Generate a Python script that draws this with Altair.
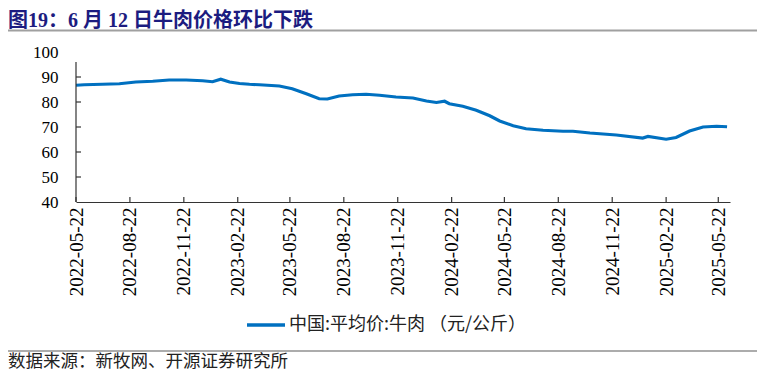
import altair as alt
import pandas as pd

dates = ["2022-05-22", "2022-06-05", "2022-07-06", "2022-08-04", "2022-09-01", "2022-09-30",
         "2022-10-28", "2022-11-26", "2022-12-24", "2023-01-10", "2023-01-24", "2023-02-08",
         "2023-02-25", "2023-03-14", "2023-03-31", "2023-05-04", "2023-05-26", "2023-06-19",
         "2023-07-11", "2023-07-25", "2023-08-14", "2023-09-06", "2023-09-29", "2023-10-22",
         "2023-11-19", "2023-12-18", "2024-01-10", "2024-01-27", "2024-02-10", "2024-02-18",
         "2024-03-12", "2024-04-04", "2024-04-27", "2024-05-14", "2024-06-06", "2024-06-28",
         "2024-07-27", "2024-08-30", "2024-09-16", "2024-10-15", "2024-11-29", "2025-01-13",
         "2025-01-22", "2025-02-22", "2025-03-11", "2025-04-03", "2025-04-26", "2025-05-19",
         "2025-06-06"]
prices = [86.7, 86.9, 87.1, 87.3, 88.0, 88.3,
          88.8, 88.8, 88.5, 88.1, 89.1, 88.0,
          87.4, 87.1, 86.9, 86.4, 85.3, 83.3,
          81.3, 81.2, 82.4, 82.9, 83.1, 82.7,
          82.0, 81.6, 80.4, 79.8, 80.3, 79.3,
          78.3, 76.7, 74.5, 72.4, 70.5, 69.3,
          68.7, 68.3, 68.3, 67.6, 66.8, 65.6,
          66.2, 65.1, 65.8, 68.4, 70.0, 70.3,
          70.1]

y_ticks = [40, 50, 60, 70, 80, 90, 100]
y_inner_ticks = [50, 60, 70, 80, 90]
x_ticks = ["2022-05-22", "2022-08-22", "2022-11-22", "2023-02-22", "2023-05-22", "2023-08-22",
           "2023-11-22", "2024-02-22", "2024-05-22", "2024-08-22", "2024-11-22", "2025-02-22",
           "2025-05-22"]
x_start = "2022-05-22"
x_end = "2025-06-11"

title_text = "图19：6 月 12 日牛肉价格环比下跌"
legend_text = "中国:平均价:牛肉 （元/公斤）"
source_text = "数据来源：新牧网、开源证券研究所"


def dt(s):
    y, m, d = (int(p) for p in s.split("-"))
    return alt.DateTime(year=y, month=m, date=d, utc=True)


W, H = 654, 150
LINE_COLOR = "#0070C0"
AXIS_COLOR = "#333333"
SERIF = "Liberation Serif"

df = pd.DataFrame({"date": dates, "price": prices})
df_xt = pd.DataFrame({"date": x_ticks, "price": [40] * len(x_ticks)})
df_yt = pd.DataFrame({"date": [x_start] * len(y_inner_ticks), "price": y_inner_ticks})
one = pd.DataFrame({"a": [0]})

x_scale = alt.Scale(type="utc", domain=[dt(x_start), dt(x_end)])
y_scale = alt.Scale(domain=[40, 100], nice=False, zero=False)

x_axis = alt.Axis(values=[dt(s) for s in x_ticks],
                  labelExpr="utcFormat(datum.value, '%Y-%m-%d')",
                  labelAngle=270, labelFont=SERIF, labelFontSize=19,
                  labelColor="#000000", labelPadding=5, tickSize=0, ticks=False,
                  domain=True, domainColor=AXIS_COLOR, domainWidth=1.2,
                  grid=False, title=None, labelOverlap=False)
y_axis = alt.Axis(values=y_ticks, labelFont=SERIF, labelFontSize=17,
                  labelColor="#000000", labelPadding=18, tickSize=0, ticks=False,
                  domain=False, grid=False, title=None, labelOverlap=False)

X = alt.X("date:T", scale=x_scale, axis=x_axis)
Y = alt.Y("price:Q", scale=y_scale, axis=y_axis)

line = alt.Chart(df).mark_line(color=LINE_COLOR, strokeWidth=3.2).encode(x=X, y=Y)

x_tick_marks = alt.Chart(df_xt).mark_rule(color=AXIS_COLOR, strokeWidth=1.2).encode(
    x=X, y=alt.value(H), y2=alt.value(H - 5))

y_tick_marks = alt.Chart(df_yt).mark_rule(color=AXIS_COLOR, strokeWidth=1.2).encode(
    y=Y, x=alt.value(0), x2=alt.value(5))

y_axis_line = alt.Chart(one).mark_rule(color=AXIS_COLOR, strokeWidth=1.2).encode(
    x=alt.value(0), y=alt.value(10), y2=alt.value(H))

title = alt.Chart(pd.DataFrame({"t": [title_text]})).mark_text(
    align="left", baseline="alphabetic", font="Liberation Serif, Noto Sans CJK SC",
    fontSize=20, fontWeight="bold", color="#1c1c80").encode(
    text="t:N", x=alt.value(-68), y=alt.value(-25))

title_rule = alt.Chart(one).mark_rule(color="#a0a0a0", strokeWidth=2).encode(
    x=alt.value(-68), x2=alt.value(681), y=alt.value(-21.5))

legend_line = alt.Chart(one).mark_rule(color=LINE_COLOR, strokeWidth=3.5).encode(
    x=alt.value(171), x2=alt.value(209), y=alt.value(273))

legend_label = alt.Chart(pd.DataFrame({"t": [legend_text]})).mark_text(
    align="left", baseline="middle", font="Noto Sans CJK SC", fontSize=18,
    color="#222222").encode(text="t:N", x=alt.value(213), y=alt.value(273))

bottom_rule = alt.Chart(one).mark_rule(color="#909090", strokeWidth=1.5).encode(
    x=alt.value(-68), x2=alt.value(681), y=alt.value(299))

source = alt.Chart(pd.DataFrame({"t": [source_text]})).mark_text(
    align="left", baseline="middle", font="Noto Sans CJK SC", fontSize=17.5,
    color="#222222").encode(text="t:N", x=alt.value(-68), y=alt.value(310))

chart = alt.layer(
    line, x_tick_marks, y_tick_marks, y_axis_line, title, title_rule,
    legend_line, legend_label, bottom_rule, source
).properties(
    width=W, height=H, autosize="none",
    padding={"left": 68, "top": 44, "right": 27, "bottom": 170},
).configure_view(stroke=None)

chart.save("out.html", embed_options={"renderer": "svg", "actions": False})
